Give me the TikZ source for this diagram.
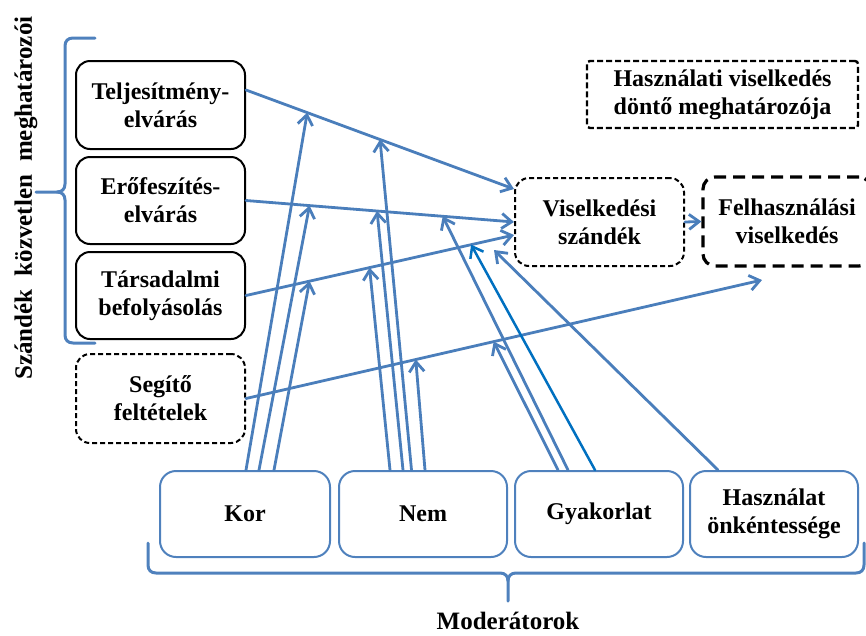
\documentclass[tikz,border=0pt]{standalone}
\usepackage{fontspec}
\setmainfont{Liberation Serif}
\usetikzlibrary{arrows.meta}
\definecolor{lineblue}{RGB}{74,126,187}
\definecolor{darkblue}{RGB}{0,112,192}
\definecolor{boxblue}{RGB}{79,129,189}

\begin{document}
\begin{tikzpicture}[x=1pt,y=-1pt,
  every node/.style={font=\fontsize{24}{28}\selectfont\bfseries, align=center, inner sep=0pt},
  solidbox/.style={draw=black, line width=2pt, rounded corners=14pt,
    minimum width=169pt, minimum height=87pt},
  dashbox/.style={draw=black, line width=2pt, dash pattern=on 5pt off 3pt,
    rounded corners=14pt, minimum width=169pt, minimum height=88pt},
  bigdashbox/.style={draw=black, line width=3.2pt, dash pattern=on 12pt off 7pt,
    rounded corners=12pt, minimum width=168pt, minimum height=89pt},
  notebox/.style={draw=black, line width=2.4pt, dash pattern=on 6pt off 3pt,
    rounded corners=3pt, minimum width=271pt, minimum height=67pt},
  modbox/.style={draw=boxblue, line width=2pt, rounded corners=16pt,
    minimum width=168pt, minimum height=86pt},
  arr/.style={draw=lineblue, line width=2.8pt, line cap=round,
    -{Straight Barb[length=10pt,width=15pt]}},
  darkarr/.style={arr, draw=darkblue, line width=2.5pt},
  brace/.style={draw=boxblue, line width=3pt, line cap=round}
]
\useasboundingbox (0,0) rectangle (866,635);

% direct determinants of intention
\node[solidbox, minimum height=88pt] (telj) at (160.5,105) {Teljesítmény-\\elvárás};
\node[solidbox] (erof) at (160.5,200.5) {Erőfeszítés-\\elvárás};
\node[solidbox] (tars) at (160.5,295.5) {Társadalmi\\befolyásolás};
\node[dashbox, minimum height=89pt] (segito) at (160.5,398.5) {Segítő\\feltételek};

% intention and behaviour
\node[dashbox] (visz) at (599.5,222) {Viselkedési\\szándék};
\node[bigdashbox] (felh) at (787,221.5) {Felhasználási\\viselkedés};
\node[notebox] (note) at (722.5,94.5) {Használati viselkedés\\döntő meghatározója};

% moderators
\node[modbox, minimum width=170pt] (kor) at (245,514) {Kor};
\node[modbox] (nem) at (423,514) {Nem};
\node[modbox] (gyak) at (599,514) {Gyakorlat};
\node[modbox] (haszn) at (774,514) {Használat\\önkéntessége};

% labels
\node[rotate=90, font=\fontsize{25}{30}\selectfont\bfseries] (vlabel) at (26,198)
  {Szándék\hspace{13pt}közvetlen\hspace{13pt}meghatározói};
\node[font=\fontsize{25}{30}\selectfont\bfseries] (modlabel) at (508,621) {Moderátorok};

% main paths into intention
\draw[arr] ([yshift=15pt]telj.east) --
  coordinate[pos=0.2285] (tA) coordinate[pos=0.5] (tB)
  ([yshift=33pt]visz.west);
\draw[arr] (erof.east) --
  coordinate[pos=0.237] (eA) coordinate[pos=0.489] (eB) coordinate[pos=0.734] (eC)
  (visz.west);
\draw[arr] (tars.east) --
  coordinate[pos=0.237] (sA) coordinate[pos=0.461] (sB) coordinate[pos=0.84] (sC)
  ([yshift=-13pt]visz.west);
\coordinate (segEnd) at (762,280);
\draw[arr] (segito.east) --
  coordinate[pos=0.329] (gA) coordinate[pos=0.48] (gB)
  (segEnd);
\draw[arr] (visz.east) -- (felh.west);

% moderating effects
\draw[arr] ([xshift=1pt]kor.north) -- (tA);
\draw[arr] ([xshift=14pt]kor.north) -- (eA);
\draw[arr] ([xshift=29pt]kor.north) -- (sA);

\draw[arr] ([xshift=-33pt]nem.north) -- (sB);
\draw[arr] ([xshift=-20pt]nem.north) -- (eB);
\draw[arr] ([xshift=-11.5pt]nem.north) -- (tB);
\draw[arr] ([xshift=2pt]nem.north) -- (gA);

\draw[arr] ([xshift=-41pt]gyak.north) -- (gB);
\draw[arr] ([xshift=-31pt]gyak.north) -- (eC);
\draw[darkarr] ([xshift=-4pt]gyak.north) -- (sC);

\coordinate (hzEnd) at ([xshift=-20pt,yshift=17pt]visz.south west);
\draw[arr] ([xshift=-56pt]haszn.north) -- (hzEnd);

% left brace
\draw[brace] (95,38) -- (73,38) .. controls (68,38) and (65,41) .. (65,46)
  -- (65,184) .. controls (65,189) and (62,192) .. (57,192) -- (36,192);
\draw[brace] (57,192) .. controls (62,192) and (65,195) .. (65,200)
  -- (65,335) .. controls (65,340) and (68,343) .. (73,343) -- (95,343);

% bottom brace
\draw[brace] (148,543) -- (148,565) .. controls (148,570) and (151,573) .. (156,573)
  -- (500,573) .. controls (505,573) and (508,576) .. (508,581) -- (508,601);
\draw[brace] (508,581) .. controls (508,576) and (511,573) .. (516,573)
  -- (856,573) .. controls (861,573) and (864,570) .. (864,565) -- (864,543);
\end{tikzpicture}
\end{document}
